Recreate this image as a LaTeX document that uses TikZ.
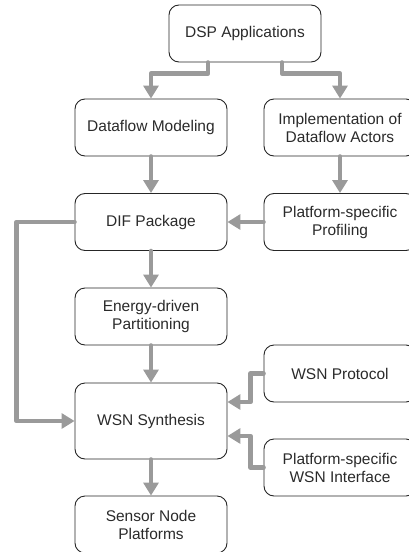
\documentclass[tikz,border=0pt]{standalone}
\usepackage{fontspec}
\setmainfont{Liberation Sans}
\usetikzlibrary{arrows.meta,calc}
\definecolor{flowgray}{HTML}{9A9A9A}
\definecolor{boxtext}{HTML}{2A2A2A}
\begin{document}
\begin{tikzpicture}[x=1pt,y=-1pt,
  stage/.style={draw=black!85, line width=0.9pt, rounded corners=10pt,
    minimum width=152pt, minimum height=57pt, align=center,
    text=boxtext, font=\fontsize{15.5}{18}\selectfont, inner sep=2pt},
  flow/.style={draw=flowgray, line width=4.5pt, line cap=round, line join=round,
    -{Triangle[length=13pt,width=15pt]}}]
\useasboundingbox (0,0) rectangle (408,552);

% stages of the design flow
\node[stage] (dsp)    at (245,33.5)  {DSP Applications};
\node[stage] (dfm)    at (151,127.5) {Dataflow Modeling};
\node[stage] (impl)   at (340,127.5) {Implementation of\\Dataflow Actors};
\node[stage] (dif)    at (151,222)   {DIF Package};
\node[stage] (prof)   at (340,222)   {Platform-specific\\Profiling};
\node[stage] (energy) at (151,316.5) {Energy-driven\\Partitioning};
\node[stage] (proto)  at (340,373.5) {WSN Protocol};
\node[stage, minimum height=76pt] (synth) at (151,421) {WSN Synthesis};
\node[stage] (iface)  at (340,467.5) {Platform-specific\\WSN Interface};
\node[stage] (sensor) at (151,524.5) {Sensor Node\\Platforms};

% connectors
\draw[flow] ([xshift=-37pt]dsp.south) -- ++(0,11) -| (dfm.north);
\draw[flow] ([xshift=37pt]dsp.south) -- ++(0,11) -| (impl.north);
\draw[flow] (dfm.south) -- (dif.north);
\draw[flow] (impl.south) -- (prof.north);
\draw[flow] (prof.west) -- (dif.east);
\draw[flow] (dif.south) -- (energy.north);
\draw[flow] (dif.west) -- ++(-58,0) |- (synth.west);
\draw[flow] (energy.south) -- (synth.north);
\draw[flow] (proto.west) -- ++(-13,0) |- ([yshift=19pt]synth.east);
\draw[flow] (iface.west) -- ++(-13,0) |- ([yshift=-15pt]synth.east);
\draw[flow] (synth.south) -- (sensor.north);
\end{tikzpicture}
\end{document}
